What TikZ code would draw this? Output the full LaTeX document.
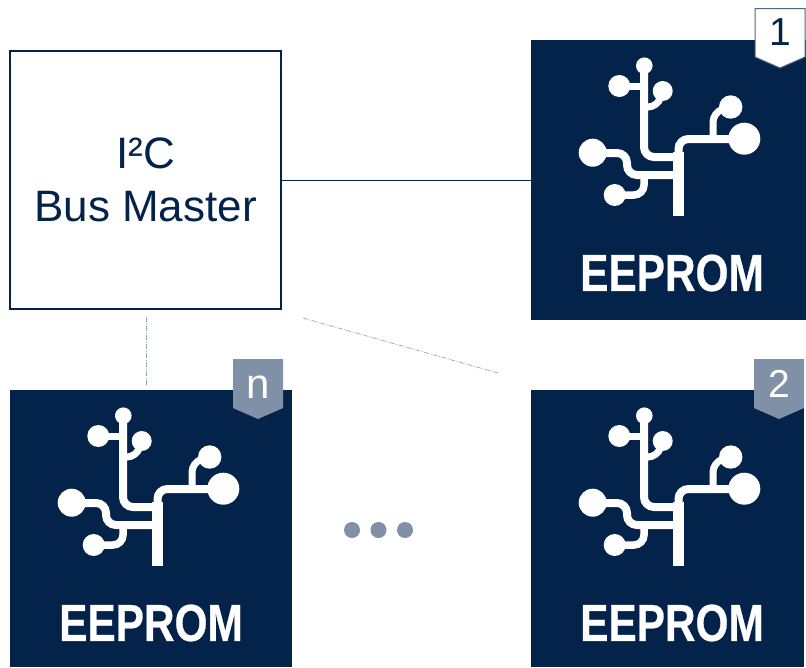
\documentclass[tikz,border=0pt]{standalone}
\usepackage{fontspec}
\setmainfont{Liberation Sans}
\newfontfamily\eepromfont[FakeStretch=0.815,FakeBold=0.5]{Liberation Sans Bold}
\definecolor{navy}{HTML}{04234A}
\definecolor{slate}{HTML}{8090A6}
\tikzset{
  panel/.style={fill=navy,draw=none,inner sep=0pt,anchor=north west,minimum width=#1,minimum height=280pt},
  master/.style={draw=navy,line width=2pt,outer sep=0pt,fill=white,inner sep=0pt,minimum width=271pt,minimum height=258pt,anchor=north west,align=center,text=navy,font=\fontsize{44}{53}\selectfont},
  link/.style={draw=navy,line width=1pt},
  hint/.style={draw=slate!80,line width=.7pt,dash pattern=on 5pt off 1.5pt on 1pt off 1.5pt},
  eeprom/.style={text=white,inner sep=0pt,font=\fontsize{52}{52}\eepromfont},
  badgetext/.style={inner sep=0pt,font=\fontsize{39}{39}\selectfont},
  dot/.style={circle,fill=slate,inner sep=0pt,minimum size=16pt},
  branch/.style={draw=white,line width=8pt,rounded corners=10pt},
  leaf/.style={fill=white,draw=none},
  icon/.pic={
    \draw[draw=white,line width=11pt] (147,176) -- (147,112);
    \draw[branch] (147.5,120) -- (147.5,99) -- (213,99);
    \draw[branch,line width=7pt] (182,99) -- (182,72) -- (196,68);
    \draw[branch] (113,26) -- (113,117) -- (145,117);
    \draw[branch,line width=7pt] (88,46) -- (113,46);
    \draw[branch,line width=7pt] (131,52) -- (127,67) -- (113,67);
    \draw[branch] (62,113) -- (96,113) -- (96,135) -- (145,135);
    \draw[branch,line width=7.5pt] (84,155) -- (113,155) -- (113,135);
    \fill[leaf] (113.3,25.7) circle (8.3);
    \fill[leaf] (88.3,46) circle (11);
    \fill[leaf] (131.7,51) circle (10);
    \fill[leaf] (199.7,67) circle (11.7);
    \fill[leaf] (213.3,98.7) circle (16);
    \fill[leaf] (61.7,112.7) circle (14);
    \fill[leaf] (83.7,155) circle (11);
  }
}
\begin{document}
\begin{tikzpicture}[x=1pt,y=-1pt]
\useasboundingbox (0,0) rectangle (806,667);
% panels
\node[panel=275pt] (p1) at (531,40) {};
\node[panel=273pt,minimum height=277pt] (p2) at (531,390) {};
\node[panel=282pt,minimum height=277pt] (pn) at (10,390) {};
\pic at (531,40) {icon};
\pic at (531,390) {icon};
\pic at (10,390) {icon};
\node[eeprom] (e1) at (672,273) {EEPROM};
\node[eeprom] (e2) at (672,623) {EEPROM};
\node[eeprom] (en) at (151,623) {EEPROM};
% master
\node[master] (m) at (10,51) {I²C\\Bus Master};
% connectors
\draw[link] (m.east) -- (p1.west |- m.east);
\coordinate (h1a) at (146,317);
\coordinate (h1b) at (146,385);
\coordinate (h2a) at (303,318);
\coordinate (h2b) at (498,373);
\draw[hint] (h1a) -- (h1b);
\draw[hint] (h2a) -- (h2b);
% badges
\draw[draw=navy!70,line width=1pt,fill=white] (755,8.5) -- (805,8.5) -- (805,57) -- (780,68) -- (755,57) -- cycle;
\node[badgetext,text=navy] (b1) at (780,32) {1};
\fill[slate] (754,359) -- (804,359) -- (804,408) -- (779,419) -- (754,408) -- cycle;
\node[badgetext,text=white] (b2) at (779,384) {2};
\fill[slate] (233,359) -- (283,359) -- (283,408) -- (258,419) -- (233,408) -- cycle;
\node[badgetext,text=white,font=\fontsize{42}{42}\selectfont] (bn) at (258,387) {n};
% dots
\node[dot] (d1) at (352,530) {};
\node[dot] (d2) at (378.5,530) {};
\node[dot] (d3) at (405,530) {};
\end{tikzpicture}
\end{document}
